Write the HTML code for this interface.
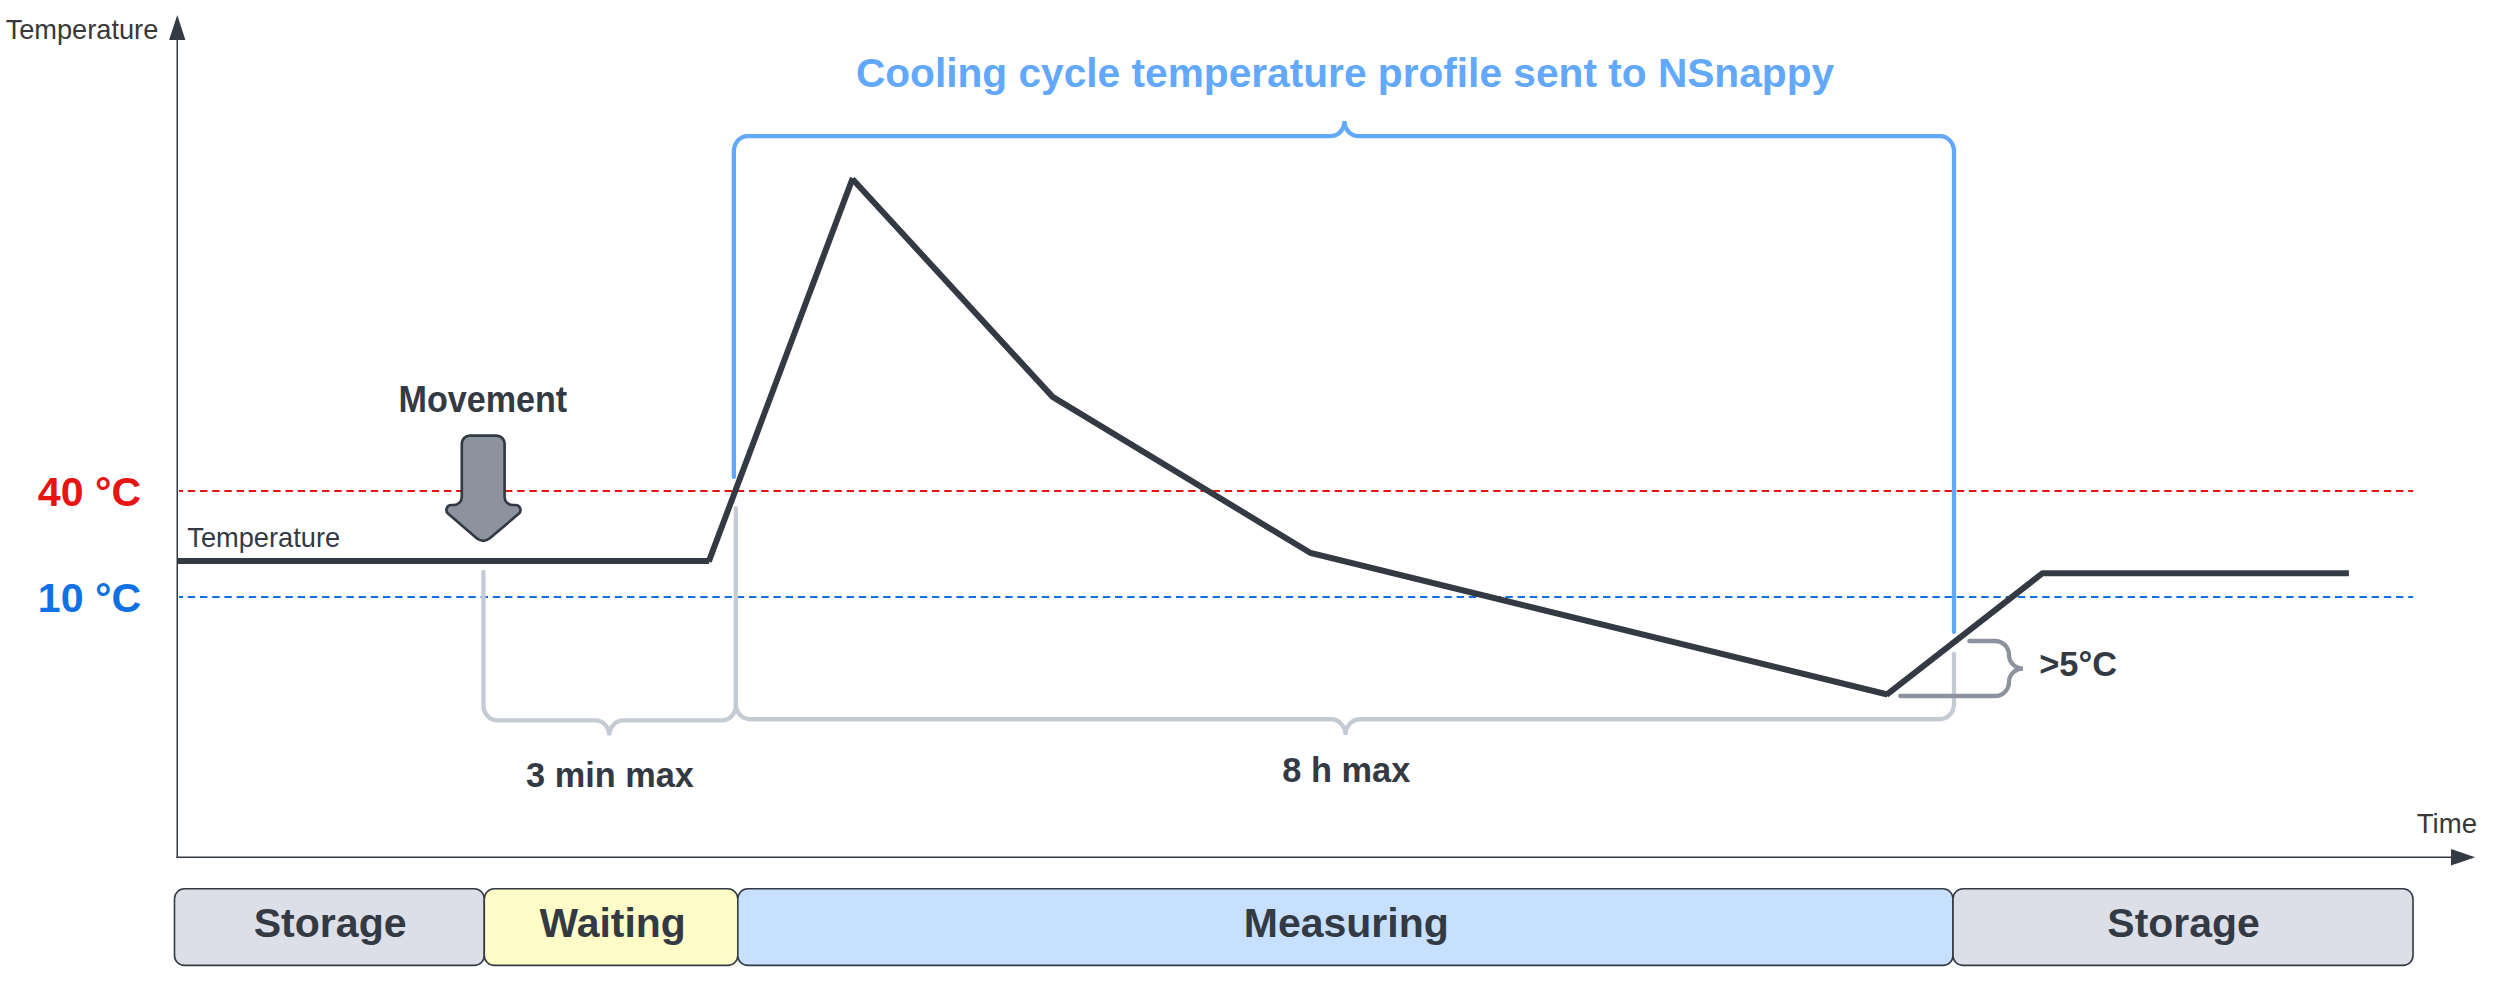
<!DOCTYPE html>
<html>
<head>
<meta charset="utf-8">
<title>Cooling cycle temperature profile</title>
<style>
html,body{margin:0;padding:0;background:#ffffff;}
body{width:2496px;height:988px;overflow:hidden;}
svg{display:block;}
text{font-family:"Liberation Sans",Arial,Helvetica,sans-serif;}
.b{font-weight:bold;}
.dk{fill:#333a44;}
</style>
</head>
<body>
<svg width="2496" height="988" viewBox="0 0 2496 988">
<rect x="0" y="0" width="2496" height="988" fill="#ffffff"/>

<!-- phase boxes -->
<g stroke="#333a44" stroke-width="1.6">
<rect x="174.5" y="888.8" width="309.8" height="76.6" rx="10" ry="10" fill="#dcdfe7"/>
<rect x="484.3" y="888.8" width="253.5" height="76.6" rx="10" ry="10" fill="#fffcc7"/>
<rect x="737.8" y="888.8" width="1215.2" height="76.6" rx="10" ry="10" fill="#c8e0ff"/>
<rect x="1953" y="888.8" width="460" height="76.6" rx="10" ry="10" fill="#dcdfe7"/>
</g>
<g class="b dk" font-size="41">
<text x="253.65" y="937" font-size="41.1">Storage</text>
<text x="539.6" y="937" font-size="40.9">Waiting</text>
<text x="1243.75" y="936.9" font-size="41">Measuring</text>
<text x="2107.35" y="937.2" font-size="40.95">Storage</text>
</g>

<!-- axes -->
<g stroke="#333a44" stroke-width="1.5" fill="none">
<line x1="177.25" y1="858" x2="177.25" y2="39"/>
<line x1="176.5" y1="857.25" x2="2452" y2="857.25"/>
</g>
<polygon points="177.25,15 185.4,40 169.1,40" fill="#333a44"/>
<polygon points="2475.2,857.25 2451,865.4 2451,849.1" fill="#333a44"/>
<text x="5.65" y="38.75" font-size="27.2" fill="#383838">Temperature</text>
<text x="2416.7" y="833.2" font-size="27.6" fill="#383838">Time</text>

<!-- thresholds -->
<line x1="179" y1="490.9" x2="2413.1" y2="490.9" stroke="#e81313" stroke-width="2" stroke-dasharray="7.4 4.8" stroke-dashoffset="3.4"/>
<line x1="179" y1="596.9" x2="2413.1" y2="596.9" stroke="#1071e5" stroke-width="2" stroke-dasharray="7.4 4.8" stroke-dashoffset="3.4"/>
<text x="37.85" y="505.6" font-size="41.1" class="b" fill="#e81313">40 °C</text>
<text x="37.85" y="612" font-size="41.1" class="b" fill="#1071e5">10 °C</text>

<!-- light grey braces -->
<g stroke="#c5cbd5" stroke-width="4.3" fill="none" stroke-linecap="round">
<path d="M483.45 572 V705.25 A14 15.2 0 0 0 497.45 720.45 H595.35 A14 15.049 0 0 1 609.35 735.5 A14 15.049 0 0 1 623.35 720.45 H721.85 A14 15.2 0 0 0 735.85 705.25 V508.2"/>
<path d="M735.85 704 V703.95 A14.3 15.3 0 0 0 750.15 719.25 H1331.2 A14.3 15.649 0 0 1 1345.5 734.9 A14.3 15.649 0 0 1 1359.8 719.25 H1939.7 A14.3 15.3 0 0 0 1954.0 703.95 V653.8"/>
</g>

<!-- blue brace -->
<g stroke="#62a8fd" stroke-width="4.3" fill="none" stroke-linecap="round">
<path d="M733.85 477 V151.35 A13.8 15.2 0 0 1 747.65 136.15 H1330.7 A13.8 15.150 0 0 0 1344.5 121.0 A13.8 15.150 0 0 0 1358.3 136.15 H1940.2 A13.8 15.2 0 0 1 1954.0 151.35 V631.9"/>
</g>
<text x="855.9" y="86.7" font-size="40.66" class="b" fill="#62a8fd">Cooling cycle temperature profile sent to NSnappy</text>

<!-- delta-T brace -->
<g stroke="#8c939e" stroke-width="4.3" fill="none" stroke-linecap="round">
<path d="M1969.3 641 H1995 A14 14 0 0 1 2009 655 A14 13.5 0 0 0 2023 668.5 A14 13.5 0 0 0 2009 682 A14 14 0 0 1 1995 696 H1900.2"/>
</g>
<text x="2039.25" y="676" font-size="34.4" class="b dk">&gt;5°C</text>

<!-- temperature curve -->
<g stroke="#333a44" stroke-width="6" fill="none" stroke-linejoin="miter">
<line x1="177.3" y1="561" x2="709.1" y2="561"/>
<line x1="708.75" y1="561.66" x2="852.77" y2="177.94"/>
<polyline points="852.43,178.93 1052.6,396.9 1310.6,553 1887.5,694.5"/>
<line x1="1886.4" y1="694.8" x2="2043.4" y2="572.5"/>
<line x1="2042.1" y1="573.25" x2="2348.9" y2="573.25"/>
</g>
<text x="187.3" y="547.4" font-size="27.22" class="dk">Temperature</text>

<!-- movement arrow -->
<path d="M469.8 435.6 H496.6 A8 8 0 0 1 504.6 443.6 V497 A8 8 0 0 0 512.6 505 H515.4 A5 5 0 0 1 518.7 513.8 L489.5 538.4 A9 9 0 0 1 477 538.4 L448.2 513.8 A5 5 0 0 1 451.5 505 H453.8 A8 8 0 0 0 461.8 497 V443.6 A8 8 0 0 1 469.8 435.6 Z" fill="#8c939e" stroke="#333a44" stroke-width="2.67" stroke-linejoin="round"/>
<text transform="translate(0,412.45) scale(1,1.06)" x="398.5" y="0" font-size="34.14" class="b dk">Movement</text>

<text x="526.1" y="786.5" font-size="34.32" class="b dk">3 min max</text>
<text x="1282.35" y="781.8" font-size="34.37" class="b dk">8 h max</text>
</svg>
</body>
</html>
